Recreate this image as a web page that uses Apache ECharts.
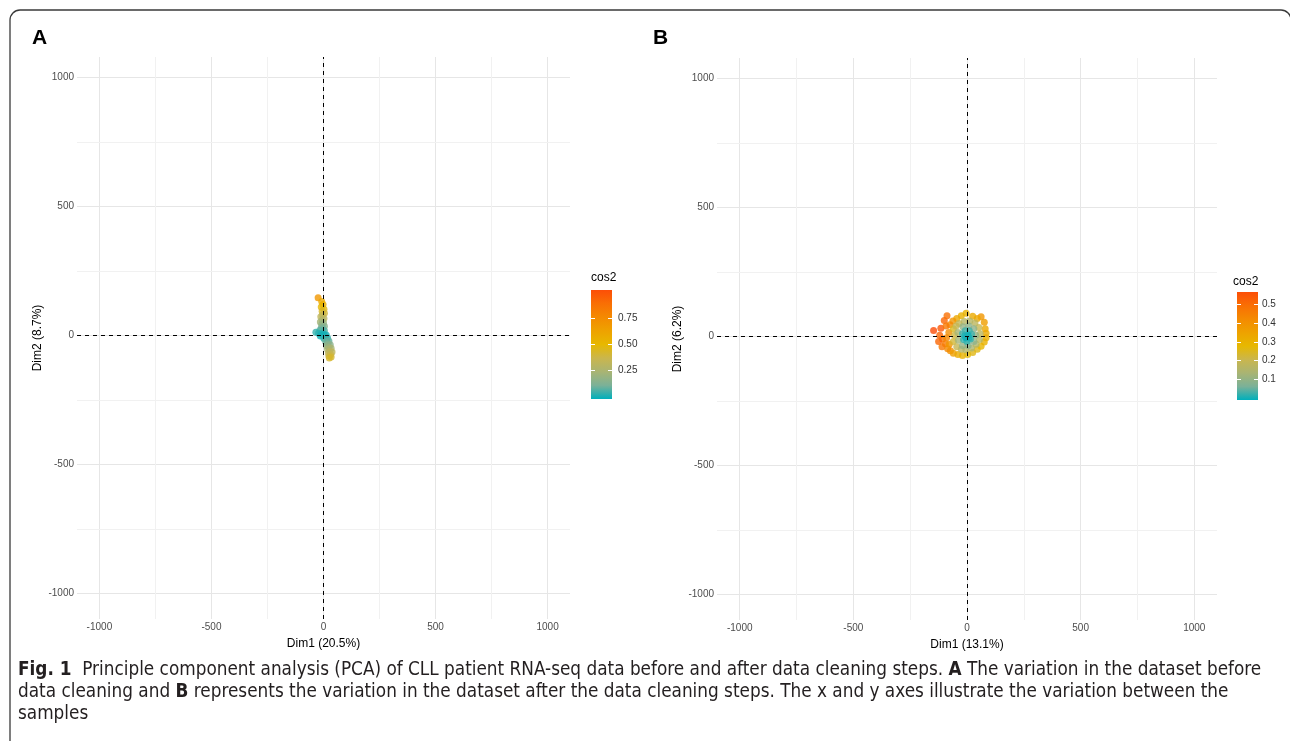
<!DOCTYPE html>
<html>
<head>
<meta charset="utf-8">
<title>PCA of CLL RNA-seq data</title>
<script src="https://cdn.jsdelivr.net/npm/echarts@6/dist/echarts.min.js"></script>
<style>
  html, body { margin: 0; padding: 0; background: #fff; }
  #main { width: 1290px; height: 741px; }
</style>
</head>
<body>
<div id="main"></div>
<script>
// ---- panel A: before data cleaning ----
const titleA = ['Dim1 (20.5%)', 'Dim2 (8.7%)'];
const xA = [-24, -8, -2, -10, 2, -6, 4, -4, -12, 2, -6, -14, 0, -8, 4, -10, -2, -16, 4, -34,
  -22, -10, 2, 12, -14, 8, 18, 2, 14, 24, 10, 20, 30, 14, 24, 34, 18, 28, 38, 22, 32, 24, 34, 26];
const yA = [146, 132, 120, 110, 102, 94, 86, 80, 72, 66, 60, 52, 48, 42, 36, 30, 26, 20, 18, 12,
  8, 6, 4, 2, -2, -6, -10, -12, -18, -22, -26, -32, -36, -40, -46, -50, -54, -60, -64, -68, -74, -80, -84, -88];
const cosA = [0.68, 0.58, 0.55, 0.5, 0.47, 0.44, 0.4, 0.38, 0.33, 0.32, 0.28, 0.24, 0.22, 0.19, 0.16, 0.14, 0.12, 0.09, 0.08, 0.05,
  0.04, 0.03, 0.02, 0.02, 0.02, 0.03, 0.05, 0.05, 0.08, 0.1, 0.11, 0.14, 0.17, 0.18, 0.22, 0.25, 0.25, 0.3, 0.33, 0.33, 0.37, 0.38, 0.42, 0.43];
const cosRangeA = [0.0, 1.0];
const legendTicksA = [0.25, 0.5, 0.75];

// ---- panel B: after data cleaning ----
const titleB = ['Dim1 (13.1%)', 'Dim2 (6.2%)'];
const xB = [-147, -115, -100, -88, -120, -108, -125, -95, -110, -85, -73, -60, -40, -20, 3, 25, 45, 62, 76, 84,
  84, 80, 76, 62, 45, 25, -4, -25, -45, -62, -75, -92, -80, -90, -78,
  -60, -55, -60, -45, -25, -5, 20, 40, 55, 58, 52, 35, 12, -12, -35, -48, -40, -38, -20, 5, 30, 38, 30, 8, -18,
  -20, -15, 0, 15, 20, 10, -8, 0, 5, -5, 8, -10];
const yB = [23, 32, 62, 80, 5, -10, -20, -28, -40, -48, -56, -65, -70, -74, -70, -62, -50, -38, -22, -5,
  12, 30, 55, 76, 70, 78, 90, 80, 70, 60, 45, 40, 15, -5, -30,
  30, 5, -20, -40, -50, -52, -45, -30, -12, 10, 35, 52, 60, 58, 50, 40, 15, -15, -35, -35, -20, 5, 30, 40, 38,
  10, -12, -20, -10, 8, 22, 22, 0, 5, -5, -5, 3];
const cosB = [0.551, 0.53, 0.5, 0.48, 0.5, 0.47, 0.5, 0.45, 0.46, 0.42, 0.4, 0.36, 0.32, 0.3, 0.27, 0.26, 0.26, 0.28, 0.3, 0.31,
  0.32, 0.33, 0.36, 0.38, 0.33, 0.32, 0.3, 0.3, 0.33, 0.38, 0.42, 0.46, 0.4, 0.42, 0.38,
  0.25, 0.22, 0.23, 0.2, 0.17, 0.16, 0.15, 0.16, 0.17, 0.18, 0.2, 0.18, 0.17, 0.17, 0.19, 0.2, 0.14, 0.13, 0.11, 0.1, 0.1, 0.11, 0.1, 0.1, 0.11,
  0.04, 0.03, 0.03, 0.03, 0.04, 0.04, 0.04, 0.004, 0.01, 0.01, 0.02, 0.02];
const cosRangeB = [0.004, 0.551];
const legendTicksB = [0.1, 0.2, 0.3, 0.4, 0.5];

// shared axis values
const majorTicks = [-1000, -500, 0, 500, 1000];
const minorTicks = [-750, -250, 250, 750];
const xLimits = [-1100, 1100];
const yLimits = [-1100, 1080];

// factoextra default gradient (#00AFBB -> #E7B800 -> #FC4E07), interpolated in Lab
const gradientCols = ['#00AFBB', '#7BB198', '#A9B473', '#CAB64D', '#E7B800', '#EEA200', '#F48A01', '#F96F04', '#FC4E07'];

const FONT = '"Liberation Sans", Arial, sans-serif';
const CAPTION_FONT = '"DejaVu Sans Condensed", "Liberation Sans Narrow", sans-serif';

function zip(xs, ys, cs) {
  return xs.map((x, i) => [x, ys[i], cs[i]]);
}

// ggplot colourbar runs half a bin (nbin = 20) past the data range
function barExtent(range) {
  const pad = (range[1] - range[0]) * 0.5 / 19;
  return [range[0] - pad, range[1] + pad];
}

function plotAxes(gridIndex, titles) {
  const common = {
    gridIndex: gridIndex,
    type: 'value',
    axisLine: { show: false },
    splitLine: { show: false },
    axisTick: { show: true, length: 3, customValues: majorTicks, lineStyle: { color: '#333', width: 1 } },
    axisLabel: { customValues: majorTicks, color: '#4D4D4D', fontSize: 10, fontFamily: FONT, margin: 3, formatter: v => String(v) },
    nameLocation: 'middle',
    nameTextStyle: { color: '#000', fontSize: 12, fontFamily: FONT }
  };
  return {
    x: Object.assign({}, common, { min: xLimits[0], max: xLimits[1], name: titles[0], nameGap: 19 }),
    y: Object.assign({}, common, { min: yLimits[0], max: yLimits[1], name: titles[1], nameGap: 33, nameRotate: 90 })
  };
}

function gridLines() {
  const data = [];
  majorTicks.forEach(v => {
    data.push({ xAxis: v, lineStyle: { color: '#E6E6E6', width: 1, type: 'solid' } });
    data.push({ yAxis: v, lineStyle: { color: '#E6E6E6', width: 1, type: 'solid' } });
  });
  minorTicks.forEach(v => {
    data.push({ xAxis: v, lineStyle: { color: '#F1F1F1', width: 1, type: 'solid' } });
    data.push({ yAxis: v, lineStyle: { color: '#F1F1F1', width: 1, type: 'solid' } });
  });
  return { silent: true, symbol: 'none', z: 1, label: { show: false }, animation: false, data: data };
}

function zeroLines() {
  return {
    silent: true, symbol: 'none', z: 5, label: { show: false }, animation: false,
    lineStyle: { color: '#000', width: 1, type: [4, 4] },
    data: [{ xAxis: 0 }, { yAxis: 0 }]
  };
}

function colourBar(gridIndex) {
  return {
    type: 'custom',
    xAxisIndex: gridIndex,
    yAxisIndex: gridIndex === 2 ? 2 : 4,
    silent: true,
    z: 2,
    data: [[0]],
    renderItem: function (params) {
      const cs = params.coordSys;
      return {
        type: 'rect',
        shape: { x: cs.x, y: cs.y, width: cs.width, height: cs.height },
        style: {
          fill: new echarts.graphic.LinearGradient(0, 1, 0, 0,
            gradientCols.map((c, i) => ({ offset: i / (gradientCols.length - 1), color: c })))
        }
      };
    }
  };
}

function barAxes(gridIndex, range, ticks, digits, labelMargin) {
  const ext = barExtent(range);
  const base = {
    gridIndex: gridIndex, type: 'value', min: ext[0], max: ext[1], z: 10,
    axisLine: { show: false }, splitLine: { show: false },
    axisTick: { show: true, inside: true, length: 4, customValues: ticks, lineStyle: { color: '#fff', width: 1 } }
  };
  return [
    Object.assign({}, base, { position: 'left', axisLabel: { show: false } }),
    Object.assign({}, base, {
      position: 'right',
      axisLabel: {
        customValues: ticks, color: '#333', fontSize: 10, fontFamily: FONT, margin: labelMargin,
        formatter: v => Number(v).toFixed(digits)
      }
    })
  ];
}

function captionLine(y, text) {
  return {
    type: 'text', silent: true,
    style: {
      x: 18, y: y, verticalAlign: 'middle', fill: '#231F20',
      fontSize: 18.8, fontFamily: CAPTION_FONT, text: text,
      rich: { b: { fontWeight: 'bold', fontSize: 18.8, fontFamily: CAPTION_FONT } }
    }
  };
}

const axesA = plotAxes(0, titleA);
const axesB = plotAxes(1, titleB);

const option = {
  backgroundColor: '#fff',
  animation: false,
  grid: [
    { left: 77, top: 57, width: 493, height: 562 },
    { left: 717, top: 58, width: 500, height: 562 },
    { left: 591, top: 290, width: 21, height: 109 },
    { left: 1237, top: 292, width: 21, height: 108 }
  ],
  xAxis: [
    axesA.x,
    axesB.x,
    { gridIndex: 2, type: 'category', data: ['cos2'], show: false },
    { gridIndex: 3, type: 'category', data: ['cos2'], show: false }
  ],
  yAxis: [axesA.y, axesB.y]
    .concat(barAxes(2, cosRangeA, legendTicksA, 2, 6))
    .concat(barAxes(3, cosRangeB, legendTicksB, 1, 4)),
  visualMap: [
    { type: 'continuous', show: false, seriesIndex: 0, dimension: 2, min: cosRangeA[0], max: cosRangeA[1], inRange: { color: gradientCols } },
    { type: 'continuous', show: false, seriesIndex: 2, dimension: 2, min: cosRangeB[0], max: cosRangeB[1], inRange: { color: gradientCols } }
  ],
  series: [
    { type: 'scatter', xAxisIndex: 0, yAxisIndex: 0, symbolSize: 7, z: 3, data: zip(xA, yA, cosA), markLine: zeroLines() },
    { type: 'scatter', xAxisIndex: 0, yAxisIndex: 0, data: [], markLine: gridLines() },
    { type: 'scatter', xAxisIndex: 1, yAxisIndex: 1, symbolSize: 7, z: 3, data: zip(xB, yB, cosB), markLine: zeroLines() },
    { type: 'scatter', xAxisIndex: 1, yAxisIndex: 1, data: [], markLine: gridLines() },
    colourBar(2),
    colourBar(3)
  ],
  graphic: [
    { type: 'rect', silent: true, z: 0, shape: { x: 10, y: 10, width: 1281, height: 800, r: 10 },
      style: { fill: 'none', stroke: '#3a3a3a', lineWidth: 1.3 } },
    { type: 'text', silent: true, style: { x: 32, y: 38, text: 'A', font: 'bold 21px ' + FONT, fill: '#000', verticalAlign: 'middle' } },
    { type: 'text', silent: true, style: { x: 653, y: 38, text: 'B', font: 'bold 21px ' + FONT, fill: '#000', verticalAlign: 'middle' } },
    { type: 'text', silent: true, style: { x: 591, y: 278, text: 'cos2', font: '12px ' + FONT, fill: '#000', verticalAlign: 'middle' } },
    { type: 'text', silent: true, style: { x: 1233, y: 282, text: 'cos2', font: '12px ' + FONT, fill: '#000', verticalAlign: 'middle' } },
    captionLine(670, '{b|Fig. 1}  Principle component analysis (PCA) of CLL patient RNA-seq data before and after data cleaning steps. {b|A} The variation in the dataset before'),
    captionLine(692, 'data cleaning and {b|B} represents the variation in the dataset after the data cleaning steps. The x and y axes illustrate the variation between the'),
    captionLine(714, 'samples')
  ]
};

const chart = echarts.init(document.getElementById('main'));
chart.setOption(option);
</script>
</body>
</html>
